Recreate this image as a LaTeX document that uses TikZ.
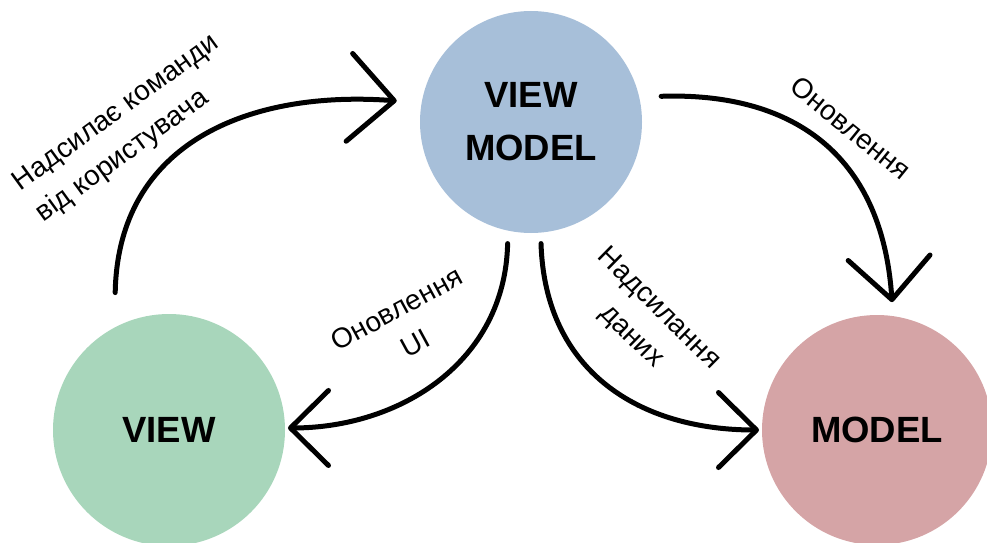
\documentclass[tikz,border=0pt]{standalone}
\usepackage{fontspec}
\setmainfont{Liberation Sans}
\usetikzlibrary{arrows.meta}
\definecolor{vmblue}{RGB}{167,191,217}
\definecolor{viewgreen}{RGB}{168,214,187}
\definecolor{modelpink}{RGB}{213,164,166}
\begin{document}
\begin{tikzpicture}[x=1pt,y=1pt,
  layer/.style={circle, inner sep=0pt, outer sep=0pt, align=center,
    font=\fontsize{36.5}{53}\selectfont\bfseries},
  flow/.style={line width=5pt, line cap=round, line join=round},
  lbl/.style={font=\fontsize{28}{39}\selectfont, inner sep=0pt}
]
\useasboundingbox (0,0) rectangle (987,542);

% the three layers
\node[layer, fill=vmblue, minimum size=222pt] (vm) at (531,420) {VIEW\\MODEL};
\node[layer, fill=viewgreen, minimum size=232pt] (view) at (169,112) {VIEW};
\node[layer, fill=modelpink, minimum size=230pt] (model) at (877,112) {MODEL};

% connectors
\draw[flow, -{Straight Barb[length=45pt,width=88pt,round]},
      shorten <=35pt, shorten >=25pt]
  (view.118) .. controls (118,400) and (250,452) .. (vm.170);
\draw[flow, -{Straight Barb[length=42pt,width=82pt,round]},
      shorten <=22pt, shorten >=14pt]
  (vm.13) .. controls (790,450) and (882,390) .. (model.82);
\draw[flow, -{Straight Barb[length=38pt,width=75pt,round]},
      shorten <=13pt, shorten >=3pt]
  (vm.258) .. controls (505,180) and (400,114) .. (view.1);
\draw[flow, -{Straight Barb[length=38pt,width=75pt,round]},
      shorten <=11pt, shorten >=3pt]
  (vm.275) .. controls (545,170) and (640,112) .. (model.180);

% labels
\node[lbl, rotate=36, align=left] (cmdlbl) at (128,413) {Надсилає команди\\від користувача};
\node[lbl, rotate=-39] (updlbl) at (851,414) {Оновлення};
\node[lbl, rotate=28.5, align=center] (uilbl) at (406,216) {Оновлення\\UI};
\node[lbl, rotate=-44.5, align=center] (datalbl) at (645,219) {Надсилання\\даних};
\end{tikzpicture}
\end{document}
